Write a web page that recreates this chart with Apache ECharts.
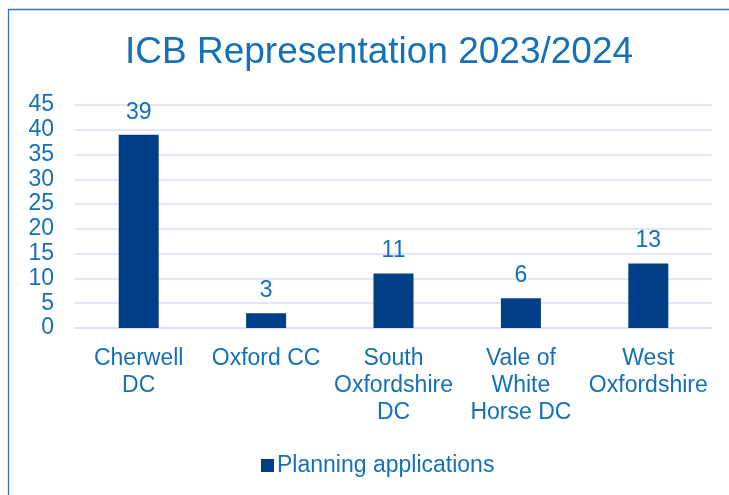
<!DOCTYPE html>
<html><head><meta charset="utf-8">
<script src="https://cdn.jsdelivr.net/npm/echarts@6/dist/echarts.min.js"></script>
<style>html,body{margin:0;padding:0;background:#fff}#c{width:729px;height:495px}</style>
</head><body><div id="c"></div>
<script>
var categories = ['Cherwell\nDC', 'Oxford CC', 'South\nOxfordshire\nDC', 'Vale of\nWhite\nHorse DC', 'West\nOxfordshire'];
var values = [39, 3, 11, 6, 13];
var seriesName = 'Planning applications';
var titleText = 'ICB Representation 2023/2024';

var txt = '#1470B8';
var chart = echarts.init(document.getElementById('c'));
chart.setOption({
  animation: false,
  textStyle: {fontFamily: 'Liberation Sans, Arial, sans-serif'},
  graphic: [{type: 'rect', shape: {x: 8.5, y: 9.5, width: 760, height: 520}, style: {fill: null, stroke: '#2E75B6', lineWidth: 1.3}}],
  title: {text: titleText, left: 120, top: 29, textStyle: {color: txt, fontSize: 37, fontWeight: 'normal', fontFamily: 'Liberation Sans, Arial, sans-serif'}},
  grid: {left: 75, right: 17, top: 105, bottom: 167},
  legend: {top: 449, left: 256, itemWidth: 13, itemHeight: 13, itemGap: 5, icon: 'rect', textStyle: {color: txt, fontSize: 23, padding: [0,0,0,-2]}, data: [seriesName]},
  xAxis: {type: 'category', data: categories,
    axisLine: {show: true, lineStyle: {color: '#D9E1F2', width: 1.5}}, axisTick: {show: false},
    axisLabel: {color: txt, fontSize: 23, lineHeight: 27, margin: 17, interval: 0}},
  yAxis: {type: 'value', min: 0, max: 45, interval: 5,
    axisLine: {show: false}, axisTick: {show: false},
    splitLine: {lineStyle: {color: '#D9E1F2', width: 1.5}},
    axisLabel: {color: txt, fontSize: 23, margin: 21}},
  series: [{name: seriesName, type: 'bar', data: values, barWidth: 40,
    itemStyle: {color: '#003F87'},
    label: {show: true, position: 'top', distance: 11, color: txt, fontSize: 23}}]
});
</script></body></html>
